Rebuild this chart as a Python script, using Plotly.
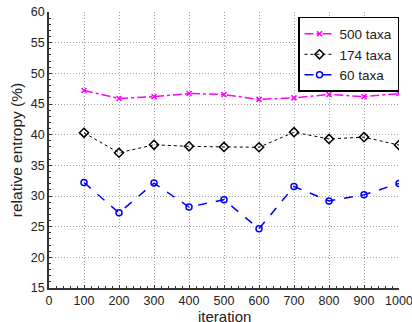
import plotly.graph_objects as go

iterations = [100, 200, 300, 400, 500, 600, 700, 800, 900, 1000]
taxa500 = [47.2, 45.9, 46.2, 46.7, 46.55, 45.75, 46.0, 46.55, 46.2, 46.7]
taxa174 = [40.3, 37.05, 38.35, 38.1, 38.0, 37.95, 40.4, 39.3, 39.6, 38.3]
taxa60 = [32.2, 27.25, 32.1, 28.2, 29.4, 24.65, 31.55, 29.2, 30.2, 32.05]

fig = go.Figure()
fig.add_trace(go.Scatter(x=iterations, y=taxa500, name="500 taxa", mode="lines+markers",
                         line=dict(color="#ff00ff", dash="dashdot", width=1.5),
                         marker=dict(symbol="x-thin", size=5, line=dict(color="#ff00ff", width=1.5))))
fig.add_trace(go.Scatter(x=iterations, y=taxa174, name="174 taxa", mode="lines+markers",
                         line=dict(color="black", dash="dot", width=1),
                         marker=dict(symbol="diamond-open", size=7, color="black", line=dict(width=1.5))))
fig.add_trace(go.Scatter(x=iterations, y=taxa60, name="60 taxa", mode="lines+markers",
                         line=dict(color="#0000ff", dash="dash", width=1.5),
                         marker=dict(symbol="circle-open", size=6, color="#0000ff", line=dict(width=1.5))))

grid = dict(showgrid=True, gridcolor="#a0a0a0", griddash="1px,2px", gridwidth=1)
fig.update_layout(
    width=412, height=322,
    margin=dict(l=49, r=13, t=12, b=34),
    paper_bgcolor="white", plot_bgcolor="white",
    font=dict(family="Liberation Sans, Arial, sans-serif", size=12.5, color="#222"),
    showlegend=True,
    legend=dict(x=1, xanchor="right", y=0.982, yanchor="top",
                bordercolor="black", borderwidth=1.5, bgcolor="white",
                font=dict(size=13.5), tracegroupgap=0, itemwidth=30),
    xaxis=dict(range=[0, 1000], tickvals=list(range(0, 1001, 100)), automargin=False,
               ticklabeloverflow="allow",
               showline=True, linecolor="#333", linewidth=1.5, mirror=False,
               ticks="inside", ticklen=3, tickcolor="#333",
               minor=dict(dtick=20, ticks="inside", ticklen=2, tickcolor="#333", showgrid=False),
               zeroline=False, **grid),
    yaxis=dict(range=[15, 60], tickvals=list(range(15, 61, 5)), automargin=False,
               title=dict(text="relative entropy (%)", font=dict(size=15.5), standoff=4),
               showline=True, linecolor="#333", linewidth=1.5, mirror=False,
               ticks="inside", ticklen=3, tickcolor="#333",
               minor=dict(dtick=1, ticks="inside", ticklen=2, tickcolor="#333", showgrid=False),
               zeroline=False, **grid),
    annotations=[dict(text="iteration", x=0.5, xref="paper", y=-0.103, yref="paper",
                      xanchor="center", yanchor="middle", showarrow=False,
                      font=dict(size=15))],
)
fig.write_html("out.html", config={"displayModeBar": False})

with open("out.html", encoding="utf-8") as f:
    html = f.read()
html = html.replace("<body>", '<body style="margin:0;padding:0;overflow:hidden">', 1)
with open("out.html", "w", encoding="utf-8") as f:
    f.write(html)
